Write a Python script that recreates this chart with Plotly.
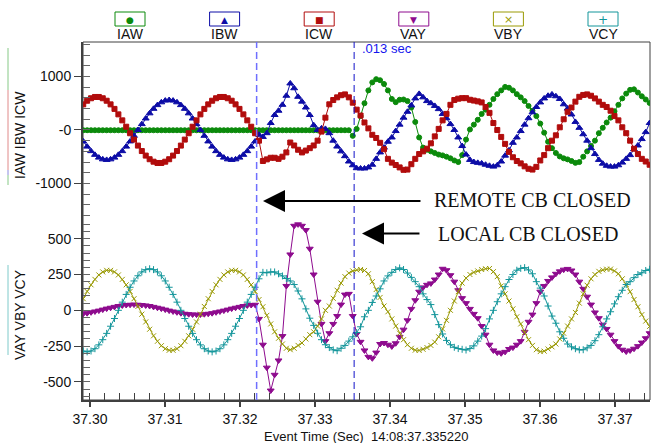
import numpy as np
import plotly.graph_objects as go

t_start = 37.2991          # time of first sample (s)
t_step = 0.00052083        # sample interval (s), 32 samples / cycle

IAW = [-5, -5, -5, -5, -5, -5, -5, -5, -5, -5,
       -5, -5, -5, -5, -5, -5, -5, -5, -5, -5,
       -5, -5, -5, -5, -5, -5, -5, -5, -5, -5,
       -5, -5, -5, -5, -5, -5, -5, -5, -5, -5,
       -5, -5, -5, -5, -5, -5, -5, -5, -5, -5,
       -5, -5, -5, -5, -5, -5, -5, -5, -5, -5,
       -5, -5, -5, -5, -5, -5, -5, -5, -5,
       -110, 20, 260, 500, 740, 890, 950, 930, 860, 740,
       580, 520, 565, 570, 540, 420, 150, -140, -330, -370,
       -400, -430, -460, -475, -500, -530, -570, -600, -470, -180,
       10, 100, 190, 300, 380, 470, 580, 670, 740, 805,
       790, 740, 670, 610, 540, 450, 360, 260, 120, -50,
       -220, -340, -430, -495, -530, -550, -580, -615, -600, -500,
       -400, -300, -200, -60, 40, 140, 230, 350, 470, 590,
       680, 750, 760, 700, 630, 570, 505]

IBW = [-214, -311, -396, -465, -517, -549, -560, -549, -517, -465,
       -396, -311, -214, -109, 0, 109, 214, 311, 396, 465,
       517, 549, 560, 549, 517, 465, 396, 311, 214, 109,
       0, -109, -214, -311, -396, -465, -517, -549, -560, -549,
       -517, -465, -396, -311, -214,
       -90, -130, -60, 130, 280, 360, 470, 640, 870, 780,
       620, 530, 420, 280, 90, 0, 30, 20, -60, -200,
       -310, -400, -490, -590, -660, -715, -720, -720, -700, -650,
       -540, -420, -330, -220, -140, -20, 100, 230, 340, 460,
       590, 675, 610, 540, 500, 450, 390, 300, 220, 110,
       0, -140, -300, -460, -560, -600, -615, -625, -650, -670,
       -685, -660, -590, -480, -380, -240, -140, -20, 100, 220,
       330, 430, 515, 590, 640, 665, 630, 580, 480, 400,
       290, 150, 40, -80, -200, -340, -450, -560, -630, -670,
       -685, -685, -660, -610, -540, -470, -360, -290, -170, -40,
       130]

ICW = [479, 547, 593, 617, 617, 593, 547, 479, 394, 292,
       180, 61, -61, -180, -292, -394, -479, -547, -593, -617,
       -617, -593, -547, -479, -394, -292, -180, -61, 61, 180,
       292, 394, 479, 547, 593, 617, 617, 593, 547, 479,
       394, 292, 180, 61, -61,
       -200, -580, -550, -520, -520, -540, -500, -420, -235, -290,
       -370, -420, -385, -340, -290, -200, -30, 230, 480, 560,
       610, 650, 665, 610, 510, 380, 270, 140, 30, -90,
       -150, -240, -360, -540, -610, -655, -700, -745, -740, -640,
       -540, -450, -400, -350, -250, -120, 20, 180, 300, 470,
       560, 585, 595, 595, 565, 550, 535, 515, 430, 320,
       130, 0, -130, -260, -410, -510, -580, -625, -680, -725,
       -740, -690, -570, -470, -340, -200, -100, 50, 200, 340,
       420, 530, 620, 655, 665, 640, 590, 530, 470, 430,
       360, 260, 180, 50, -60, -200, -350, -450, -540, -590,
       -650]

VAY = [-24, -20, -14, -8, -2, 5, 12, 18, 24, 30,
       34, 37, 39, 40, 39, 37, 34, 30, 24, 18,
       12, 5, -2, -8, -14, -20, -24, -27, -29, -30,
       -29, -27, -24, -20, -14, -8, -2, 5, 12, 18,
       24, 30, 34, 37, 39,
       -60, -240, -400, -560, -450, -350, -180, 170, 390, 590,
       600, 590, 560, 430, 250, 60, -95, -215, -160, -95,
       -40, 40, 110, 115, -40, -165, -220, -280, -325, -335,
       -295, -235, -228, -240, -252, -230, -185, -135, -70, 10,
       70, 130, 160, 178, 188, 215, 250, 290, 280, 245,
       200, 140, 85, 50, 10, -25, -55, -110, -170, -240,
       -280, -295, -300, -290, -270, -260, -240, -215, -150, -80,
       -30, 50, 130, 170, 205, 230, 255, 272, 284, 289,
       278, 250, 200, 150, 95, 40, -15, -55, -100, -130,
       -170, -215, -250, -275, -288, -280, -268, -250, -225, -195,
       -160]

VBY = [81, 132, 178, 216, 247, 268, 279, 279, 268, 247,
       216, 178, 132, 81, 27, -27, -81, -132, -178, -216,
       -247, -268, -279, -279, -268, -247, -216, -178, -132, -81,
       -27, 27, 81, 132, 178, 216, 247, 268, 279, 279,
       268, 247, 216, 178, 132,
       75, 25, -35, -95, -150, -195, -235, -265, -275, -265,
       -245, -228, -200, -170, -150, -110, -60, 0, 30, 84,
       140, 190, 235, 260, 275, 282, 285, 278, 255, 200,
       145, 90, 30, -10, -60, -110, -160, -205, -240, -265,
       -278, -280, -272, -260, -245, -222, -185, -130, -70, 0,
       65, 130, 190, 225, 250, 265, 275, 285, 290, 292,
       270, 235, 170, 115, 65, 10, -45, -95, -155, -205,
       -245, -275, -288, -285, -270, -255, -235, -200, -160, -110,
       -60, -15, 50, 115, 175, 220, 250, 272, 282, 287,
       288, 275, 255, 220, 180, 130, 75, 25, -30, -75,
       -112]

VCY = [-284, -290, -284, -268, -241, -205, -161, -111, -57, 0,
       57, 111, 161, 205, 241, 268, 284, 290, 284, 268,
       241, 205, 161, 111, 57, 0, -57, -111, -161, -205,
       -241, -268, -284, -290, -284, -268, -241, -205, -161, -111,
       -57, 0, 57, 111, 161,
       220, 265, 262, 268, 268, 255, 240, 222, 205, 180,
       135, 80, 10, -55, -105, -160, -205, -240, -260, -276,
       -282, -265, -245, -215, -185, -155, -115, -45, 0, 55,
       100, 150, 205, 240, 265, 285, 296, 285, 260, 230,
       200, 165, 115, 75, 40, -30, -100, -165, -210, -240,
       -258, -267, -272, -277, -267, -248, -215, -180, -128, -60,
       0, 60, 115, 165, 215, 250, 280, 293, 298, 282,
       255, 200, 155, 100, 30, -40, -90, -150, -195, -235,
       -255, -268, -276, -275, -262, -245, -212, -170, -115, -60,
       -10, 45, 95, 140, 180, 200, 228, 250, 262, 278,
       287]

series_names = ["IAW", "IBW", "ICW", "VAY", "VBY", "VCY"]
series_values = [IAW, IBW, ICW, VAY, VBY, VCY]
series_axis = ["y", "y", "y", "y2", "y2", "y2"]

remote_close_t = 37.32222   # remote CB closed marker
local_close_t = 37.33522    # local CB closed (event time)

current_ticks = [-1000, 0, 1000]
current_ticktext = ["-1000", "-0", "1000"]
voltage_ticks = [-500, -250, 0, 250, 500]
voltage_ticktext = ["-500", "-250", "0", "250", "500"]

# ---------------- styles ----------------
colors = {"IAW": "#0b8a0b", "IBW": "#0c0ca6", "ICW": "#b10c0c",
          "VAY": "#8e0b8e", "VBY": "#9a9a05", "VCY": "#12959a"}
symbols = {"IAW": "circle", "IBW": "triangle-up", "ICW": "square",
           "VAY": "triangle-down", "VBY": "x-thin", "VCY": "cross-thin"}
msize = {"IAW": 5, "IBW": 6, "ICW": 5, "VAY": 6, "VBY": 5, "VCY": 5}
glyphs = {"IAW": "●", "IBW": "▲", "ICW": "■", "VAY": "▼", "VBY": "×", "VCY": "+"}
glyph_size = {"IAW": 9, "IBW": 9, "ICW": 9, "VAY": 9, "VBY": 11, "VCY": 12}

W, H = 652, 443
L, R, T, B = 83, 2, 42, 43
PW, PH = W - L - R, H - T - B
SANS = "Liberation Sans, Arial, sans-serif"
SERIF = "Liberation Serif, Times New Roman, serif"
AX = "#404040"


def px_x(x):
    return (x - L) / PW


def px_y(y):
    return (H - B - y) / PH


fig = go.Figure()
for name, vals, yax in zip(series_names, series_values, series_axis):
    tt = t_start + t_step * np.arange(len(vals))
    c = colors[name]
    fig.add_trace(go.Scatter(
        x=tt, y=vals, mode="lines+markers", yaxis=yax, xaxis="x",
        line=dict(color=c, width=1),
        marker=dict(symbol=symbols[name], size=msize[name], color=c,
                    line=dict(color=c, width=1)),
        showlegend=False, hoverinfo="skip"))

split = 0.503
fig.update_layout(
    width=W, height=H,
    margin=dict(l=L, r=R, t=T, b=B),
    plot_bgcolor="white", paper_bgcolor="white",
    showlegend=False,
    font=dict(family=SANS, size=14, color="#111"),
    xaxis=dict(range=[37.29907, 37.37467], anchor="y2",
               tickmode="linear", tick0=37.30, dtick=0.01, tickformat=".2f",
               ticks="outside", ticklen=5, tickwidth=2, tickcolor=AX,
               showline=True, linewidth=2, linecolor=AX,
               showgrid=False, zeroline=False,
               minor=dict(tickmode="linear", tick0=37.30, dtick=0.002,
                          ticks="inside", ticklen=7, tickwidth=1, tickcolor=AX),
               tickfont=dict(size=14, color="#111")),
    yaxis=dict(domain=[split, 1], range=[-1682, 1645], anchor="x",
               tickmode="array", tickvals=current_ticks, ticktext=current_ticktext,
               ticks="outside", ticklen=7, tickwidth=1, tickcolor=AX,
               showline=True, linewidth=2, linecolor=AX,
               showgrid=False, zeroline=False,
               minor=dict(tickmode="linear", tick0=0, dtick=200,
                          ticks="inside", ticklen=7, tickwidth=1, tickcolor="#666"),
               tickfont=dict(size=14, color="#111")),
    yaxis2=dict(domain=[0, split], range=[-626, 631], anchor="x",
                tickmode="array", tickvals=voltage_ticks, ticktext=voltage_ticktext,
                ticks="outside", ticklen=7, tickwidth=1, tickcolor=AX,
                showline=True, linewidth=2, linecolor=AX,
                showgrid=False, zeroline=False,
                minor=dict(tickmode="linear", tick0=0, dtick=50,
                           ticks="inside", ticklen=7, tickwidth=1, tickcolor="#666"),
                tickfont=dict(size=14, color="#111")),
)

shapes = []
# frame
shapes.append(dict(type="rect", xref="paper", yref="paper", x0=0, x1=1, y0=0, y1=1,
                   line=dict(color=AX, width=1), layer="below"))
# breaker closing markers
shapes.append(dict(type="line", xref="x", yref="paper", x0=remote_close_t, x1=remote_close_t,
                   y0=0, y1=1, line=dict(color="#6f6fff", width=1.5, dash="7px,4px")))
shapes.append(dict(type="line", xref="x", yref="paper", x0=local_close_t, x1=local_close_t,
                   y0=0, y1=1, line=dict(color="#1010c8", width=1, dash="7px,4px")))
# colour bars next to axis titles
for (y0, y1, c) in [(48, 90, "#86c986"), (90, 170, "#e08a8a"), (170, 175, "#8a8ae0"),
                    (175, 185, "#86c986"), (265, 355, "#7fcaca")]:
    shapes.append(dict(type="line", xref="paper", yref="paper", x0=px_x(8), x1=px_x(8),
                       y0=px_y(y0), y1=px_y(y1), line=dict(color=c, width=1)))

annotations = []
# custom legend
leg_x0, leg_dx = 130, 94.6
for i, name in enumerate(series_names):
    xc = leg_x0 + i * leg_dx
    c = colors[name]
    shapes.append(dict(type="rect", xref="paper", yref="paper",
                       x0=px_x(xc - 15), x1=px_x(xc + 15), y0=px_y(26), y1=px_y(12),
                       line=dict(color=c, width=1), fillcolor="white"))
    annotations.append(dict(xref="paper", yref="paper", x=px_x(xc), y=px_y(19.5),
                            text=glyphs[name], showarrow=False,
                            font=dict(size=glyph_size[name], color=c, family="DejaVu Sans"),
                            xanchor="center", yanchor="middle"))
    annotations.append(dict(xref="paper", yref="paper", x=px_x(xc), y=px_y(34),
                            text=name, showarrow=False,
                            font=dict(size=14, color="#111", family=SANS),
                            xanchor="center", yanchor="middle"))

# axis titles
annotations.append(dict(xref="paper", yref="paper", x=px_x(20), y=px_y(135),
                        text="IAW IBW ICW", textangle=-90, showarrow=False,
                        font=dict(size=14, color="#111"), xanchor="center", yanchor="middle"))
annotations.append(dict(xref="paper", yref="paper", x=px_x(20), y=px_y(315),
                        text="VAY VBY VCY", textangle=-90, showarrow=False,
                        font=dict(size=14, color="#111"), xanchor="center", yanchor="middle"))
annotations.append(dict(xref="paper", yref="paper", x=px_x(366.5), y=px_y(436),
                        text="Event Time (Sec)  14:08:37.335220", showarrow=False,
                        font=dict(size=13, color="#111"), xanchor="center", yanchor="middle"))
# interval label
annotations.append(dict(xref="paper", yref="paper", x=px_x(360), y=px_y(49),
                        text=".013 sec", showarrow=False,
                        font=dict(size=13, color="#1515ee"), xanchor="left", yanchor="middle"))
# arrows + texts
annotations.append(dict(xref="x", yref="paper", x=37.30 + (263 - 90) / 7500, y=px_y(201),
                        ax=159, ay=0, text="", showarrow=True, arrowhead=2,
                        arrowsize=2.2, arrowwidth=2, arrowcolor="black", standoff=0))
annotations.append(dict(xref="paper", yref="paper", x=px_x(432), y=px_y(200),
                        text="REMOTE CB CLOSED", showarrow=False,
                        font=dict(size=20, color="#111", family=SERIF),
                        xanchor="left", yanchor="middle"))
annotations.append(dict(xref="x", yref="paper", x=37.30 + (362 - 90) / 7500, y=px_y(233.5),
                        ax=59, ay=0, text="", showarrow=True, arrowhead=2,
                        arrowsize=2.2, arrowwidth=2, arrowcolor="black", standoff=0))
annotations.append(dict(xref="paper", yref="paper", x=px_x(436), y=px_y(234),
                        text="LOCAL CB CLOSED", showarrow=False,
                        font=dict(size=20, color="#111", family=SERIF),
                        xanchor="left", yanchor="middle"))

fig.update_layout(shapes=shapes, annotations=annotations)
fig.write_html("out.html",
               config={"displayModeBar": False},
               post_script="document.body.style.margin='0px';document.body.style.padding='0px';")
